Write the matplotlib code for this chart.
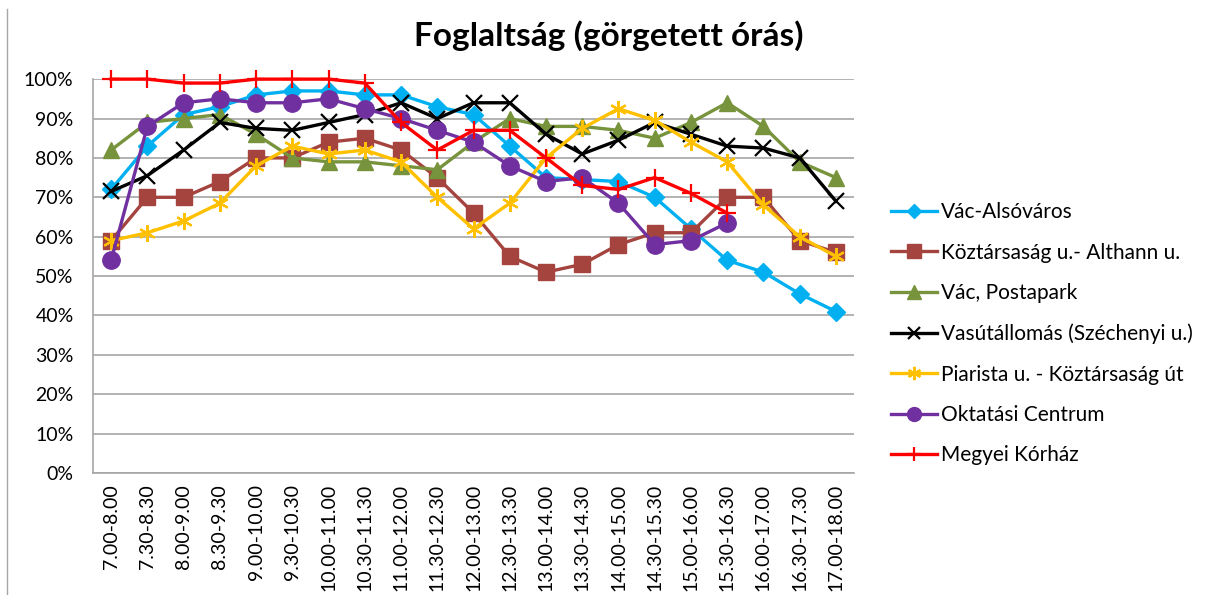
import matplotlib.pyplot as plt
from matplotlib.lines import Line2D
from matplotlib.ticker import FuncFormatter

plt.rcParams['font.family'] = ['Lato', 'DejaVu Sans']

# time windows (rolling hourly)
slots = ['7.00-8.00', '7.30-8.30', '8.00-9.00', '8.30-9.30', '9.00-10.00',
         '9.30-10.30', '10.00-11.00', '10.30-11.30', '11.00-12.00', '11.30-12.30',
         '12.00-13.00', '12.30-13.30', '13.00-14.00', '13.30-14.30', '14.00-15.00',
         '14.30-15.30', '15.00-16.00', '15.30-16.30', '16.00-17.00', '16.30-17.30',
         '17.00-18.00']

# occupancy in %
vac_alsovaros = [72, 83, 91, 93, 96, 97, 97, 96, 96, 93, 91, 83, 75, 74.5, 74,
                 70, 62, 54, 51, 45.5, 41]
koztarsasag_althann = [59, 70, 70, 74, 80, 80, 84, 85, 82, 75, 66, 55, 51, 53, 58,
                       61, 61, 70, 70, 59, 56]
postapark = [82, 89, 90, 91, 86, 80, 79, 79, 78, 77, 84, 90, 88, 88, 87, 85, 89,
             94, 88, 79, 75]
vasutallomas = [71.5, 75.5, 82, 89, 87.5, 87, 89, 91, 94, 90, 94, 94, 86, 81,
                84.5, 89, 86, 83, 82.5, 80, 69]
piarista = [59, 61, 64, 68.5, 78, 83, 81, 82, 79, 70, 62, 68.5, 80, 87.5, 92.5,
            89.5, 84, 79, 68, 60, 55]
oktatasi = [54, 88, 94, 95, 94, 94, 95, 92.5, 90, 87, 84, 78, 74, 75, 68.5, 58,
            59, 63.5]
korhaz = [100, 100, 99, 99, 100, 100, 100, 99, 89, 82, 87, 87, 80, 73, 72, 75,
          71, 66]

series = [
    ('Vác-Alsóváros', vac_alsovaros, '#00B0F0', 'D', 9),
    ('Köztársaság u.- Althann u.', koztarsasag_althann, '#A5443F', 's', 12),
    ('Vác, Postapark', postapark, '#77933C', '^', 12),
    ('Vasútállomás (Széchenyi u.)', vasutallomas, '#000000', 'x', 11),
    ('Piarista u. - Köztársaság út', piarista, '#FFC000', (6, 2, 0), 12),
    ('Oktatási Centrum', oktatasi, '#7030A0', 'o', 12.5),
    ('Megyei Kórház', korhaz, '#FF0000', '+', 13),
]

fig = plt.figure(figsize=(12.08, 5.95), dpi=100)
ax = fig.add_axes([0.077, 0.205, 0.630, 0.662])

handles = []
for name, vals, color, marker, ms in series:
    x = list(range(len(vals)))
    y = [v / 100 for v in vals]
    mew = 1.6 if marker in ('x', '+', (6, 2, 0)) else 1
    ax.plot(x, y, color=color, lw=2.4, marker=marker, markersize=ms,
            markeredgewidth=mew, markeredgecolor=color,
            markerfacecolor=color, label=name, zorder=3, clip_on=False)
    handles.append(Line2D([0], [0], color=color, lw=2.4, marker=marker,
                          markersize=ms * 0.8, markeredgewidth=mew,
                          markeredgecolor=color, markerfacecolor=color))

ax.set_xlim(-0.5, len(slots) - 0.5)
ax.set_ylim(0, 1)
ax.set_yticks([i / 10 for i in range(11)])
ax.yaxis.set_major_formatter(FuncFormatter(lambda v, _: f'{v:.0%}'))
ax.set_xticks(range(len(slots)))
ax.set_xticklabels(slots, rotation=90, fontsize=14)
ax.tick_params(axis='y', labelsize=14, length=0, pad=14)
ax.tick_params(axis='x', length=0, pad=8)

ax.grid(axis='y', color='#A6A6A6', lw=1.2)
ax.set_axisbelow(True)
for side in ('top', 'right'):
    ax.spines[side].set_visible(False)
for side in ('left', 'bottom'):
    ax.spines[side].set_color('#A6A6A6')
    ax.spines[side].set_linewidth(1.2)

fig.text(0.504, 0.94, 'Foglaltság (görgetett órás)', ha='center', va='center',
         fontsize=24, fontweight='bold')

fig.legend(handles, [s[0] for s in series], loc='center left',
           bbox_to_anchor=(0.722, 0.439), frameon=False, fontsize=15,
           handlelength=2.2, handletextpad=0.2, labelspacing=0.98)

# thin border line on the left edge
fig.add_artist(Line2D([0.006, 0.006], [0.0, 0.985], color='#A6A6A6', lw=1,
                      transform=fig.transFigure))

fig.savefig('out.png', dpi=100)
